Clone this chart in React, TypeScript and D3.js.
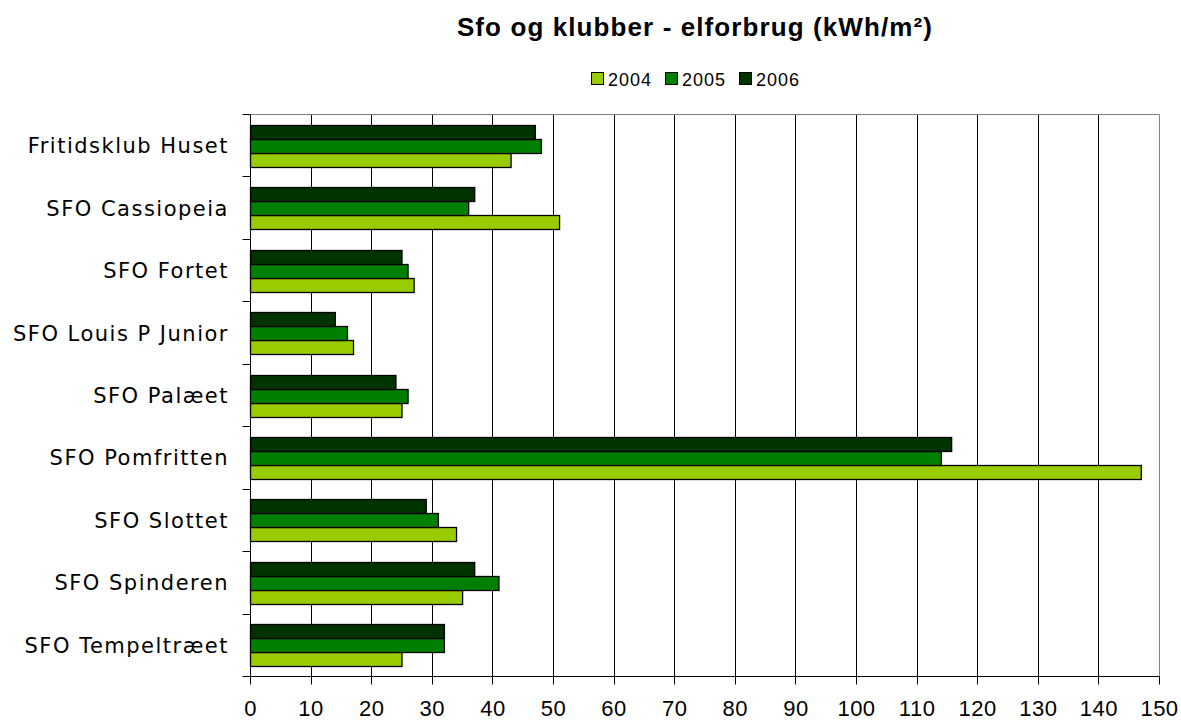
import React from "react";
import * as d3 from "d3";

const categories = [
  "Fritidsklub Huset",
  "SFO Cassiopeia",
  "SFO Fortet",
  "SFO Louis P Junior",
  "SFO Palæet",
  "SFO Pomfritten",
  "SFO Slottet",
  "SFO Spinderen",
  "SFO Tempeltræet",
];
const years = ["2004", "2005", "2006"];
const values2004 = [43, 51, 27, 17, 25, 147, 34, 35, 25];
const values2005 = [48, 36, 26, 16, 26, 114, 31, 41, 32];
const values2006 = [47, 37, 25, 14, 24, 115.7, 29, 37, 32];
const xTicks = d3.range(0, 151, 10);
const colors: Record<string, string> = { "2004": "#99cc00", "2005": "#008000", "2006": "#003300" };

const W = 1181;
const H = 722;
const margin = { left: 250.5, right: 21.5, top: 114.5, bottom: 45.5 };

export default function App() {
  const seriesValues: Record<string, number[]> = {
    "2004": values2004,
    "2005": values2005,
    "2006": values2006,
  };

  const x = d3.scaleLinear().domain([0, 150]).range([margin.left, W - margin.right]);
  const y = d3.scaleBand().domain(categories).range([margin.top, H - margin.bottom]);
  const groupH = 42;
  const inner = d3
    .scaleBand()
    .domain(["2006", "2005", "2004"])
    .range([(y.bandwidth() - groupH) / 2, (y.bandwidth() + groupH) / 2]);

  const plotTop = margin.top;
  const plotBottom = H - margin.bottom;
  const plotLeft = margin.left;
  const plotRight = W - margin.right;
  const snap = (v: number) => Math.round(v - 0.5) + 0.5;

  const boundaries = d3.range(categories.length + 1).map((i) => margin.top + i * y.step());

  return (
    <svg width={W} height={H} style={{ position: "absolute", left: 0, top: 0, background: "#fff" }}>
      {/* title */}
      <text
        x={695}
        y={36}
        textAnchor="middle"
        fontFamily="'Liberation Sans', Arial, sans-serif"
        fontWeight="bold"
        fontSize={26}
        letterSpacing={1.1}
      >
        Sfo og klubber - elforbrug (kWh/m²)
      </text>

      {/* legend */}
      {years.map((yr, i) => {
        const lx = 591 + i * 74;
        return (
          <g key={yr}>
            <rect x={lx + 0.5} y={72.5} width={12} height={12} fill={colors[yr]} stroke="#000" strokeWidth={1} />
            <text x={lx + 17} y={86} fontFamily="'Liberation Sans', Arial, sans-serif" fontSize={18} letterSpacing={1}>
              {yr}
            </text>
          </g>
        );
      })}

      {/* gridlines */}
      {xTicks.slice(1, -1).map((t) => (
        <line key={t} x1={snap(x(t))} x2={snap(x(t))} y1={plotTop} y2={plotBottom} stroke="#000" strokeWidth={1} />
      ))}
      {/* plot border top/right */}
      <line x1={plotLeft} x2={snap(plotRight)} y1={plotTop} y2={plotTop} stroke="#808080" strokeWidth={1} />
      <line x1={snap(plotRight)} x2={snap(plotRight)} y1={plotTop} y2={plotBottom} stroke="#808080" strokeWidth={1} />

      {/* bars */}
      {categories.map((c, ci) =>
        years.map((yr) => {
          const v = seriesValues[yr][ci];
          const by = Math.round((y(c) ?? 0) + (inner(yr) ?? 0)) + 0.5;
          return (
            <rect
              key={c + yr}
              x={plotLeft}
              y={by}
              width={x(v) - x(0)}
              height={inner.bandwidth()}
              fill={colors[yr]}
              stroke="#000"
              strokeWidth={1.3}
            />
          );
        })
      )}

      {/* left axis */}
      <line x1={plotLeft} x2={plotLeft} y1={plotTop} y2={plotBottom} stroke="#000" strokeWidth={1} />
      {boundaries.map((b, i) => (
        <line key={i} x1={plotLeft - 8} x2={plotLeft} y1={snap(b)} y2={snap(b)} stroke="#000" strokeWidth={1} />
      ))}
      {categories.map((c) => (
        <text
          key={c}
          x={229}
          y={(y(c) ?? 0) + y.bandwidth() / 2 + 7.5}
          textAnchor="end"
          fontFamily="'DejaVu Sans', Verdana, sans-serif"
          fontSize={21}
          letterSpacing={1.5}
        >
          {c}
        </text>
      ))}

      {/* bottom axis */}
      <line x1={plotLeft} x2={snap(plotRight)} y1={snap(plotBottom)} y2={snap(plotBottom)} stroke="#000" strokeWidth={1} />
      {xTicks.map((t) => (
        <g key={t}>
          <line x1={snap(x(t))} x2={snap(x(t))} y1={plotBottom} y2={plotBottom + 8} stroke="#000" strokeWidth={1} />
          <text
            x={x(t)}
            y={716}
            textAnchor="middle"
            fontFamily="'Liberation Sans', Arial, sans-serif"
            fontSize={22}
            letterSpacing={0.5}
          >
            {t}
          </text>
        </g>
      ))}
    </svg>
  );
}
